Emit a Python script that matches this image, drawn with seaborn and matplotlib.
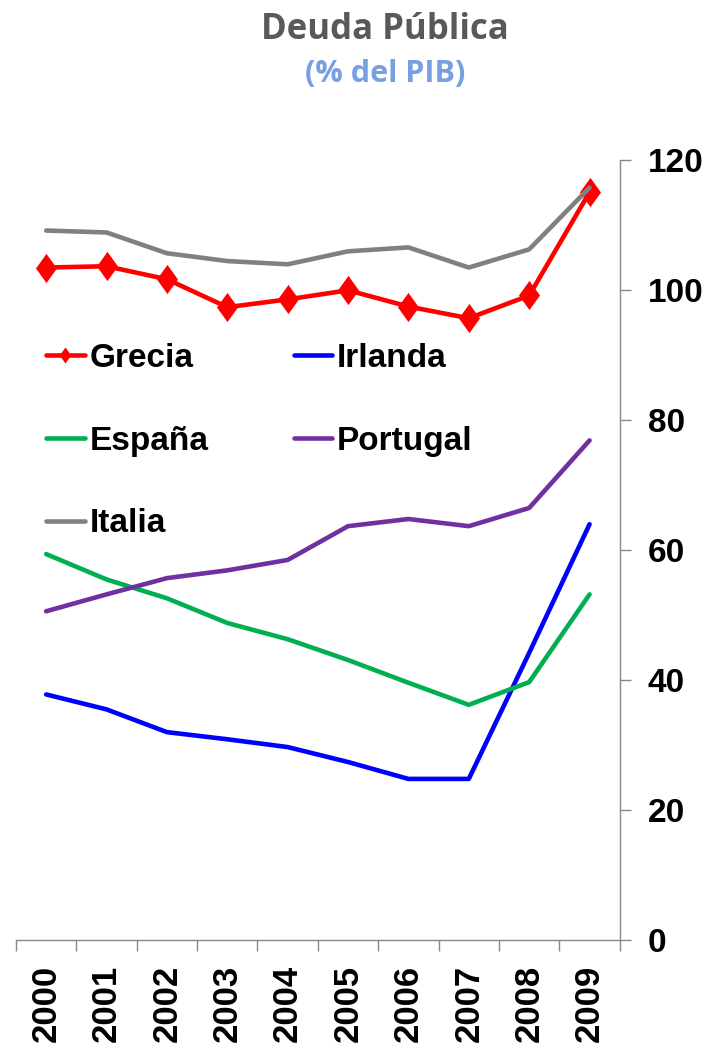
import matplotlib
matplotlib.use("Agg")
import matplotlib.pyplot as plt
import seaborn as sns
import pandas as pd
import numpy as np

# Deuda pública (% del PIB), 2000-2009
years    = ['2000', '2001', '2002', '2003', '2004', '2005', '2006', '2007', '2008', '2009']
grecia   = [103.5, 103.7, 101.7, 97.4, 98.6, 100.0, 97.5, 95.7, 99.2, 115.1]
irlanda  = [37.8, 35.5, 32.0, 30.9, 29.7, 27.4, 24.8, 24.8, 44.2, 64.0]
espana   = [59.4, 55.5, 52.6, 48.8, 46.3, 43.1, 39.6, 36.2, 39.7, 53.2]
portugal = [50.6, 53.2, 55.7, 56.9, 58.5, 63.7, 64.8, 63.7, 66.5, 76.9]
italia   = [109.2, 108.9, 105.7, 104.5, 104.0, 106.0, 106.6, 103.5, 106.3, 115.8]

series = {"Grecia": grecia, "Irlanda": irlanda, "España": espana,
          "Portugal": portugal, "Italia": italia}
colores = {"Grecia": "#FF0000", "Irlanda": "#0000FF", "España": "#00B050",
           "Portugal": "#7030A0", "Italia": "#808080"}

df = pd.DataFrame([{"anio": i, "pais": p, "valor": v}
                   for p, vals in series.items() for i, v in enumerate(vals)])

sns.set_style("white")
plt.rcParams['font.family'] = ['Liberation Sans', 'DejaVu Sans']
plt.rcParams['text.color'] = 'black'
plt.rcParams['xtick.labelcolor'] = 'black'
plt.rcParams['ytick.labelcolor'] = 'black'

fig = plt.figure(figsize=(7.07, 10.48), dpi=100)
ax = fig.add_axes([0.0226, 0.103, 0.854, 0.744])

diamante = [(-0.36, 0), (0, 0.5), (0.36, 0), (0, -0.5)]
for p in ["Irlanda", "España", "Portugal", "Grecia", "Italia"]:
    sub = df[df["pais"] == p]
    kw = dict(marker=diamante, markersize=21, markeredgewidth=0) if p == "Grecia" else {}
    sns.lineplot(data=sub, x="anio", y="valor", color=colores[p], linewidth=3.3,
                 ax=ax, label=p, solid_capstyle='round', **kw)

ax.set_xlim(-0.5, 9.5)
ax.set_ylim(0, 120)
ax.set_xlabel("")
ax.set_ylabel("")

# eje Y a la derecha
ax.yaxis.tick_right()
ax.set_yticks(range(0, 121, 20))
ax.tick_params(axis='y', which='major', direction='out', length=8, width=1,
               color='#888888', pad=12, labelsize=24)
for t in ax.get_yticklabels():
    t.set_fontweight('bold')

ax.set_xticks(range(len(years)))
ax.set_xticklabels(years, rotation=90, fontsize=25, fontweight='bold')
ax.set_xticks(np.arange(-0.5, 10, 1), minor=True)
ax.tick_params(axis='x', which='major', length=0, pad=18)
ax.tick_params(axis='x', which='minor', direction='out', length=8, width=1,
               color='#888888', bottom=True)

for s in ['top', 'left']:
    ax.spines[s].set_visible(False)
for s in ['right', 'bottom']:
    ax.spines[s].set_color('#888888')
    ax.spines[s].set_linewidth(1)

# leyenda en dos columnas
h, l = ax.get_legend_handles_labels()
orden = ["Grecia", "España", "Italia", "Irlanda", "Portugal"]
hd = dict(zip(l, h))
leg = ax.legend([hd[o] for o in orden], orden, ncol=2, frameon=False,
                loc='upper left', bbox_to_anchor=(0.028, 0.783), numpoints=1,
                markerscale=0.55,
                prop={'size': 24, 'weight': 'bold'},
                handlelength=1.15, handletextpad=0.15, labelspacing=1.55,
                columnspacing=2.55, borderaxespad=0)

fig.text(0.545, 0.971, "Deuda Pública", ha='center', va='center',
         fontsize=25, fontweight='bold', color='#595959', family=['Open Sans', 'DejaVu Sans'])
fig.text(0.545, 0.929, "(% del PIB)", ha='center', va='center',
         fontsize=22, fontweight='bold', color='#779FE2', family=['Open Sans', 'DejaVu Sans'])

fig.savefig("out.png", dpi=100)
